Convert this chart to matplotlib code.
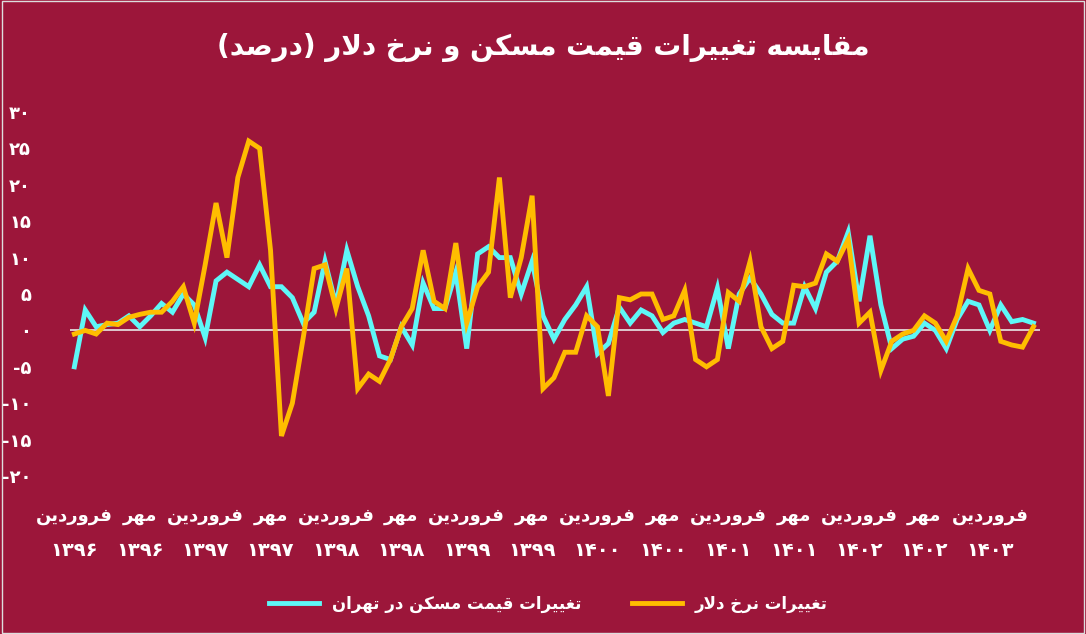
import matplotlib.pyplot as plt
from matplotlib.lines import Line2D

# monthly changes (percent), Farvardin 1396 onward
housing = [-5, 2.8, 0.5, 0.8, 1, 2, 0.5, 2, 3.7, 2.5, 5, 3.5, -1, 6.8, 8, 7, 6, 9, 6, 6,
           4.5, 1, 2.5, 9.5, 3.5, 11, 6, 2, -3.5, -4, 0.5, -2, 6.5, 3, 3, 8, -2.5, 10.5, 11.5, 10,
           10, 5, 9.5, 2, -1.2, 1.5, 3.5, 6, -3.2, -1.8, 3.2, 1, 2.8, 2, -0.3, 1, 1.5, 1, 0.5, 5.8,
           -2.5, 5, 7.2, 5, 2.2, 1, 1, 6, 3, 8, 9.5, 13.5, 4, 13, 3.5, -2.5, -1.2, -0.8, 1, 0,
           -2.5, 1.5, 4, 3.5, 0, 3.5, 1.2, 1.5, 1]
dollar = [-0.5, 0, -0.5, 1, 0.8, 1.8, 2.2, 2.5, 2.5, 4, 6, 1, 9, 17.5, 10, 21, 26, 25, 11, -14.5,
          -10, -1, 8.5, 9, 3, 8.5, -8, -6, -7, -4, 0.5, 3, 11, 4, 3, 12, 1, 6, 8, 21,
          4.5, 10, 18.5, -8, -6.5, -3, -3, 2, 0.5, -9, 4.5, 4.2, 5, 5, 1.5, 2, 5.5, -4, -5, -4,
          5.2, 4, 9.5, 0.5, -2.5, -1.5, 6.2, 6, 6.5, 10.5, 9.5, 12.5, 1, 2.5, -5.5, -1.5, -0.5, 0, 2, 1,
          -1.5, 2, 8.5, 5.5, 5, -1.5, -2, -2.3, 0.5]
months = ["فروردین", "مهر"]
years = ["۱۳۹۶", "۱۳۹۶", "۱۳۹۷", "۱۳۹۷", "۱۳۹۸", "۱۳۹۸", "۱۳۹۹", "۱۳۹۹",
         "۱۴۰۰", "۱۴۰۰", "۱۴۰۱", "۱۴۰۱", "۱۴۰۲", "۱۴۰۲", "۱۴۰۳"]
yticks = [30, 25, 20, 15, 10, 5, 0, -5, -10, -15, -20]

title = "مقایسه تغییرات قیمت مسکن و نرخ دلار (درصد)"
name_house = "تغییرات قیمت مسکن در تهران"
name_dollar = "تغییرات نرخ دلار"

# minimal Persian shaping: (isolated, final, initial, medial); 2-form letters don't join forward
FORMS = {
    "ا": (0xFE8D, 0xFE8E), "د": (0xFEA9, 0xFEAA), "ر": (0xFEAD, 0xFEAE), "و": (0xFEED, 0xFEEE),
    "ت": (0xFE95, 0xFE96, 0xFE97, 0xFE98), "خ": (0xFEA5, 0xFEA6, 0xFEA7, 0xFEA8),
    "س": (0xFEB1, 0xFEB2, 0xFEB3, 0xFEB4), "ص": (0xFEB9, 0xFEBA, 0xFEBB, 0xFEBC),
    "غ": (0xFECD, 0xFECE, 0xFECF, 0xFED0), "ف": (0xFED1, 0xFED2, 0xFED3, 0xFED4),
    "ق": (0xFED5, 0xFED6, 0xFED7, 0xFED8), "ک": (0xFB8E, 0xFB8F, 0xFB90, 0xFB91),
    "ل": (0xFEDD, 0xFEDE, 0xFEDF, 0xFEE0), "م": (0xFEE1, 0xFEE2, 0xFEE3, 0xFEE4),
    "ن": (0xFEE5, 0xFEE6, 0xFEE7, 0xFEE8), "ه": (0xFEE9, 0xFEEA, 0xFEEB, 0xFEEC),
    "ی": (0xFBFC, 0xFBFD, 0xFBFE, 0xFBFF),
}


def shape(s):
    s = s.replace("لا", "\uE000")
    out = []
    for i, c in enumerate(s):
        prev = s[i - 1] if i > 0 else ""
        nxt = s[i + 1] if i + 1 < len(s) else ""
        pj = prev in FORMS and len(FORMS[prev]) == 4
        if c == "\uE000":
            out.append(chr(0xFEFC if pj else 0xFEFB))
            continue
        if c not in FORMS:
            out.append(c)
            continue
        f = FORMS[c]
        nj = len(f) == 4 and (nxt in FORMS or nxt == "\uE000")
        if pj and nj:
            out.append(chr(f[3]))
        elif pj:
            out.append(chr(f[1]))
        elif nj:
            out.append(chr(f[2]))
        else:
            out.append(chr(f[0]))
    r = "".join(out)[::-1]
    return r.translate(str.maketrans("()", ")("))


def pdigits(n):
    return str(n).translate(str.maketrans("-0123456789", "-۰۱۲۳۴۵۶۷۸۹"))


bg = "#9c163a"
plt.rcParams["font.family"] = "DejaVu Sans"
fig = plt.figure(figsize=(10.86, 6.34), dpi=100, facecolor=bg)
fig.patches.append(plt.Rectangle((0.002, 0.002), 0.996, 0.996, transform=fig.transFigure,
                                 fill=False, edgecolor="#dddddd", lw=1))
ax = fig.add_axes([70 / 1086, 1 - 476 / 634, (1040 - 70) / 1086, 364 / 634])
ax.set_facecolor(bg)
x = list(range(len(housing)))
ax.plot(x, housing, color="#5ef7f7", lw=3.5, solid_joinstyle="miter")
ax.plot(x, dollar, color="#ffbd00", lw=3.5, solid_joinstyle="miter")
ax.axhline(0, color="#e8e8e8", lw=1.2, zorder=1)
ax.set_xlim(-0.4, len(housing) - 0.4)
ax.set_ylim(-20, 30)
for sp in ax.spines.values():
    sp.set_visible(False)
ax.set_xticks([])
ax.set_yticks(yticks)
ax.set_yticklabels([pdigits(v) for v in yticks], color="white", fontsize=13, fontweight="bold")
ax.tick_params(axis="y", length=0, pad=28)
for k, yr in enumerate(years):
    ax.text(k * 6, -25.5, shape(months[k % 2]), ha="center", va="center", color="white",
            fontsize=13, fontweight="bold")
    ax.text(k * 6, -30.3, yr, ha="center", va="center", color="white",
            fontsize=14, fontweight="bold")

fig.text(0.5, 0.925, shape(title), ha="center", va="center", color="white",
         fontsize=20, fontweight="bold")
handles = [Line2D([], [], color="#5ef7f7", lw=3.5), Line2D([], [], color="#ffbd00", lw=3.5)]
leg = fig.legend(handles, [shape(name_house), shape(name_dollar)], loc="center",
                 bbox_to_anchor=(0.505, 0.047), ncol=2, frameon=False, fontsize=12,
                 handlelength=3, columnspacing=3)
for t in leg.get_texts():
    t.set_color("white")
    t.set_fontweight("bold")
fig.savefig("out.png", dpi=100, facecolor=bg)
